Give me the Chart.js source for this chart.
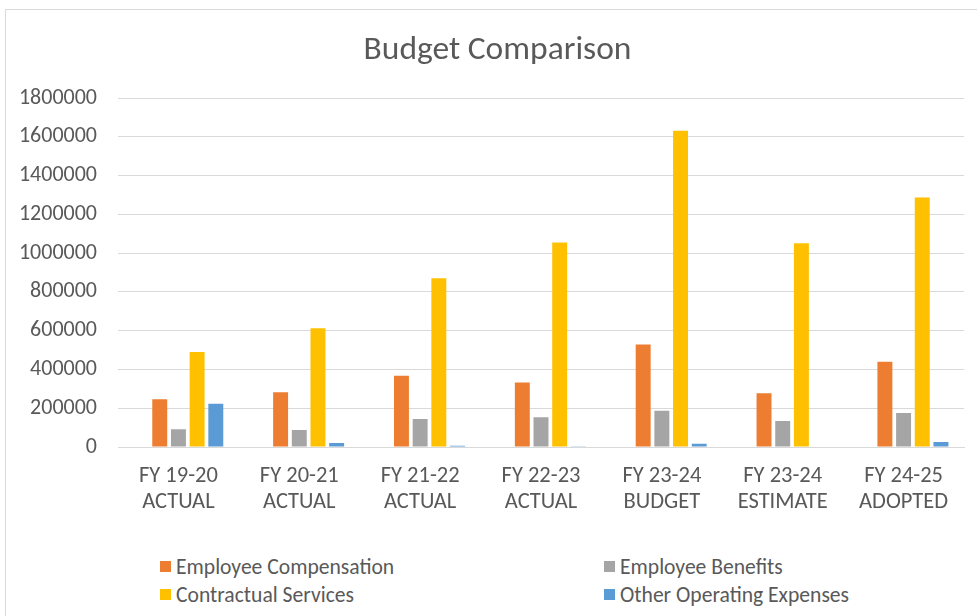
<!DOCTYPE html>
<html>
<head>
<meta charset="utf-8">
<script src="https://cdn.jsdelivr.net/npm/chart.js@4.4.1/dist/chart.umd.min.js"></script>
<style>
  html, body { margin: 0; padding: 0; background: #fff; overflow: hidden; }
  body { width: 977px; height: 616px; position: relative; font-family: Carlito, "Open Sans", sans-serif; }
  #frame { position: absolute; left: 5px; top: 9px; width: 1000px; height: 700px;
           border-top: 1px solid #d9d9d9; border-left: 1px solid #d9d9d9; }
  #wrap { position: absolute; left: 0; top: 0; width: 977px; height: 540px; }
  #legend { position: absolute; left: 160px; top: 552px; display: grid;
            grid-template-columns: 444px 360px; grid-auto-rows: 28px; color: #595959; font-size: 21.6px; }
  #legend div { display: flex; align-items: center; white-space: nowrap; }
  #legend span.box { display: inline-block; width: 11px; height: 11px; margin-right: 5px; }
</style>
</head>
<body>
<div id="frame"></div>
<div id="wrap"><canvas id="budgetChart"></canvas></div>
<div id="legend"></div>
<script>
const years = [
  ['FY 19-20', 'ACTUAL'],
  ['FY 20-21', 'ACTUAL'],
  ['FY 21-22', 'ACTUAL'],
  ['FY 22-23', 'ACTUAL'],
  ['FY 23-24', 'BUDGET'],
  ['FY 23-24', 'ESTIMATE'],
  ['FY 24-25', 'ADOPTED']
];
const employeeCompensation = [246000, 282000, 368000, 333000, 529000, 277000, 440000];
const employeeBenefits = [91000, 88000, 144000, 153000, 187000, 134000, 175000];
const contractualServices = [490000, 613000, 871000, 1055000, 1632000, 1051000, 1287000];
const otherOperating = [223000, 21000, 7000, 1000, 17000, 0, 26000];
// first series is empty; it only holds the slot left of the orange bars
const emptySeries = [null, null, null, null, null, null, null];
const yTicks = [0, 200000, 400000, 600000, 800000, 1000000, 1200000, 1400000, 1600000, 1800000];

const textColor = '#595959';
const gridColor = '#d9d9d9';
const fontFamily = 'Carlito, "Open Sans", sans-serif';

const datasets = [
  { label: '', data: emptySeries, backgroundColor: '#4472C4' },
  { label: 'Employee Compensation', data: employeeCompensation, backgroundColor: '#ED7D31' },
  { label: 'Employee Benefits', data: employeeBenefits, backgroundColor: '#A5A5A5' },
  { label: 'Contractual Services', data: contractualServices, backgroundColor: '#FFC000' },
  { label: 'Other Operating Expenses', data: otherOperating, backgroundColor: '#5B9BD5' }
];
datasets.forEach(d => { d.barPercentage = 0.8; d.categoryPercentage = 0.773; });

// nudge the title box so its centre sits a little right of the canvas middle
const titleShift = {
  id: 'titleShift',
  afterLayout(chart) {
    if (chart.titleBlock) chart.titleBlock.left += 31;
  }
};

const chart = new Chart(document.getElementById('budgetChart'), {
  type: 'bar',
  data: { labels: years, datasets: datasets },
  plugins: [titleShift],
  options: {
    responsive: true,
    maintainAspectRatio: false,
    animation: false,
    layout: { padding: { left: 0, right: 13, top: 0, bottom: 0 } },
    plugins: {
      legend: { display: false },
      tooltip: { enabled: false },
      title: {
        display: true,
        text: 'Budget Comparison',
        color: textColor,
        font: { family: fontFamily, size: 33.5, weight: 'normal', lineHeight: 1.2 },
        padding: { top: 31, bottom: 27 }
      }
    },
    scales: {
      x: {
        grid: { display: false, drawTicks: false },
        border: { display: true, color: gridColor, width: 1 },
        ticks: { color: textColor, font: { family: fontFamily, size: 22.5, lineHeight: 1.156 },
                 padding: 16, maxRotation: 0 },
        afterFit: s => { s.height = 93; }
      },
      y: {
        min: 0,
        max: 1800000,
        afterBuildTicks: s => { s.ticks = yTicks.map(v => ({ value: v })); },
        grid: { color: gridColor, lineWidth: 1, drawTicks: false },
        border: { display: false },
        ticks: { color: textColor, font: { family: fontFamily, size: 22 }, padding: 21,
                 callback: v => String(v) },
        afterFit: s => { s.width = 118; }
      }
    }
  }
});

// legend in two columns, built from the datasets
const legend = document.getElementById('legend');
chart.data.datasets.filter(d => d.label).forEach(d => {
  const item = document.createElement('div');
  const box = document.createElement('span');
  box.className = 'box';
  box.style.background = d.backgroundColor;
  item.appendChild(box);
  item.appendChild(document.createTextNode(d.label));
  legend.appendChild(item);
});
</script>
</body>
</html>
